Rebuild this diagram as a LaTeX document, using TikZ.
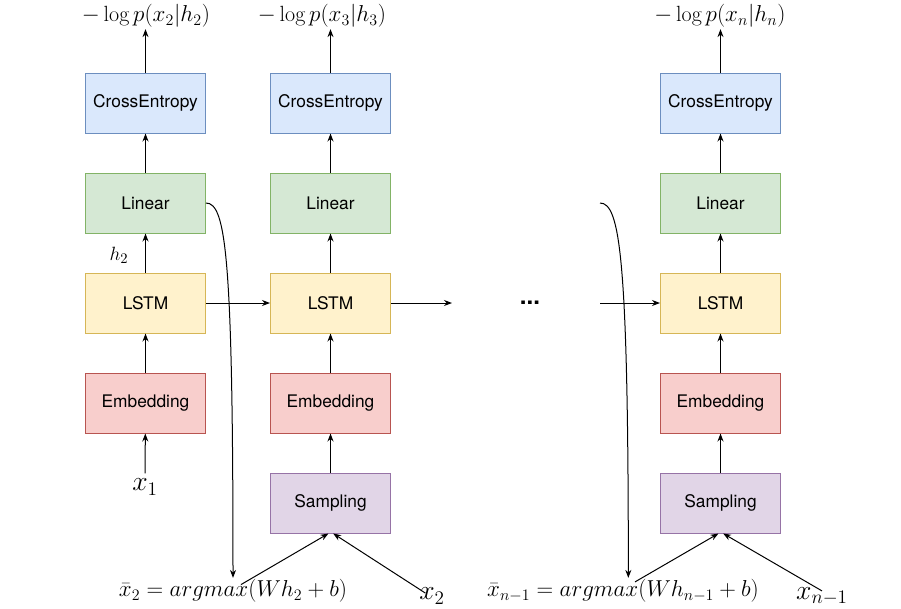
\documentclass[tikz,border=0pt]{standalone}
\usepackage{amsmath,amssymb}
\usepackage{fontspec}
\newfontfamily\boxfont{TeX Gyre Heros}
\usetikzlibrary{arrows.meta}

\definecolor{ceFill}{HTML}{DAE8FC}
\definecolor{ceLine}{HTML}{6C8EBF}
\definecolor{linFill}{HTML}{D5E8D4}
\definecolor{linLine}{HTML}{82B366}
\definecolor{lstmFill}{HTML}{FFF2CC}
\definecolor{lstmLine}{HTML}{D6B656}
\definecolor{embFill}{HTML}{F8CECC}
\definecolor{embLine}{HTML}{B85450}
\definecolor{sampFill}{HTML}{E1D5E7}
\definecolor{sampLine}{HTML}{9673A6}

\begin{document}
\begin{tikzpicture}[x=0.75pt,y=-0.75pt,
		box/.style={draw, line width=0.75pt, minimum width=90pt, minimum height=45pt, inner sep=0pt, font=\boxfont\fontsize{13}{15}\selectfont},
		cebox/.style={box, fill=ceFill, draw=ceLine},
		linbox/.style={box, fill=linFill, draw=linLine},
		lstmbox/.style={box, fill=lstmFill, draw=lstmLine},
		embbox/.style={box, fill=embFill, draw=embLine},
		sampbox/.style={box, fill=sampFill, draw=sampLine},
		lbl/.style={inner sep=1pt, font=\fontsize{16.5}{18}\selectfont},
		biglbl/.style={inner sep=4pt, font=\fontsize{20}{22}\selectfont},
		arr/.style={line width=0.75pt, -{Stealth[length=6pt,width=4.5pt]}},
	]
	\useasboundingbox (0,0) rectangle (901,608);

	% first step
	\node[cebox] (ce1) at (145.5,103) {CrossEntropy};
	\node[linbox] (lin1) at (145.5,203) {Linear};
	\node[lstmbox] (lstm1) at (145.5,303) {LSTM};
	\node[embbox] (emb1) at (145.5,403) {Embedding};
	\node[lbl] (nll1) at (146,16) {$-\log p(x_2|h_2)$};
	\node[biglbl] (x1) at (145,487) {$x_1$};
	\node[inner sep=1pt, font=\fontsize{15}{17}\selectfont] (h2) at (119,255) {$h_2$};

	% second step
	\node[cebox] (ce2) at (330.5,103) {CrossEntropy};
	\node[linbox] (lin2) at (330.5,203) {Linear};
	\node[lstmbox] (lstm2) at (330.5,303) {LSTM};
	\node[embbox] (emb2) at (330.5,403) {Embedding};
	\node[sampbox] (samp2) at (330.5,503) {Sampling};
	\node[lbl] (nll2) at (322,16) {$-\log p(x_3|h_3)$};
	\node[lbl] (eq1) at (233,591) {$\bar{x}_2 = argmax(Wh_2+b)$};
	\node[biglbl] (x2) at (432,596) {$x_2$};

	% last step
	\node[cebox] (ce3) at (720.5,103) {CrossEntropy};
	\node[linbox] (lin3) at (720.5,203) {Linear};
	\node[lstmbox] (lstm3) at (720.5,303) {LSTM};
	\node[embbox] (emb3) at (720.5,403) {Embedding};
	\node[sampbox] (samp3) at (720.5,503) {Sampling};
	\node[lbl] (nll3) at (720,16) {$-\log p(x_n|h_n)$};
	\node[lbl] (eq2) at (623,591) {$\bar{x}_{n-1} = argmax(Wh_{n-1}+b)$};
	\node[biglbl] (xn) at (822,596) {$x_{n-1}$};

	\node[font=\boxfont\bfseries\fontsize{18}{20}\selectfont] (dots) at (530,303) {...};
	\coordinate (fwd) at (452,303);
	\coordinate (back) at (600,303);
	\coordinate (feed) at (600,203);

	% vertical flow
	\draw[arr] (x1) -- (emb1);
	\draw[arr] (emb1) -- (lstm1);
	\draw[arr] (lstm1) -- (lin1);
	\draw[arr] (lin1) -- (ce1);
	\draw[arr] (ce1.north) -- (ce1.north |- nll1.south);
	\draw[arr] (samp2) -- (emb2);
	\draw[arr] (emb2) -- (lstm2);
	\draw[arr] (lstm2) -- (lin2);
	\draw[arr] (lin2) -- (ce2);
	\draw[arr] (ce2.north) -- (ce2.north |- nll2.south);
	\draw[arr] (samp3) -- (emb3);
	\draw[arr] (emb3) -- (lstm3);
	\draw[arr] (lstm3) -- (lin3);
	\draw[arr] (lin3) -- (ce3);
	\draw[arr] (ce3.north) -- (ce3.north |- nll3.south);

	% hidden state
	\draw[arr] (lstm1) -- (lstm2);
	\draw[arr] (lstm2) -- (fwd);
	\draw[arr] (back) -- (lstm3);

	% sampling feedback
	\draw[arr] (lin1.east) .. controls +(20,0) and +(0,-320) .. (eq1.north);
	\draw[arr] (feed) .. controls +(20,0) and +(0,-320) .. ([xshift=4pt]eq2.north);
	\draw[arr] ([xshift=6pt,yshift=-5pt]eq1.north) -- ([xshift=-1.5pt]samp2.south);
	\draw[arr] ([xshift=-5pt,yshift=-8pt]x2.north) -- ([xshift=2pt]samp2.south);
	\draw[arr] ([xshift=9pt,yshift=-3pt]eq2.north) -- ([xshift=-1.5pt]samp3.south);
	\draw[arr] ([yshift=-7pt]xn.north) -- ([xshift=2pt]samp3.south);
\end{tikzpicture}
\end{document}
